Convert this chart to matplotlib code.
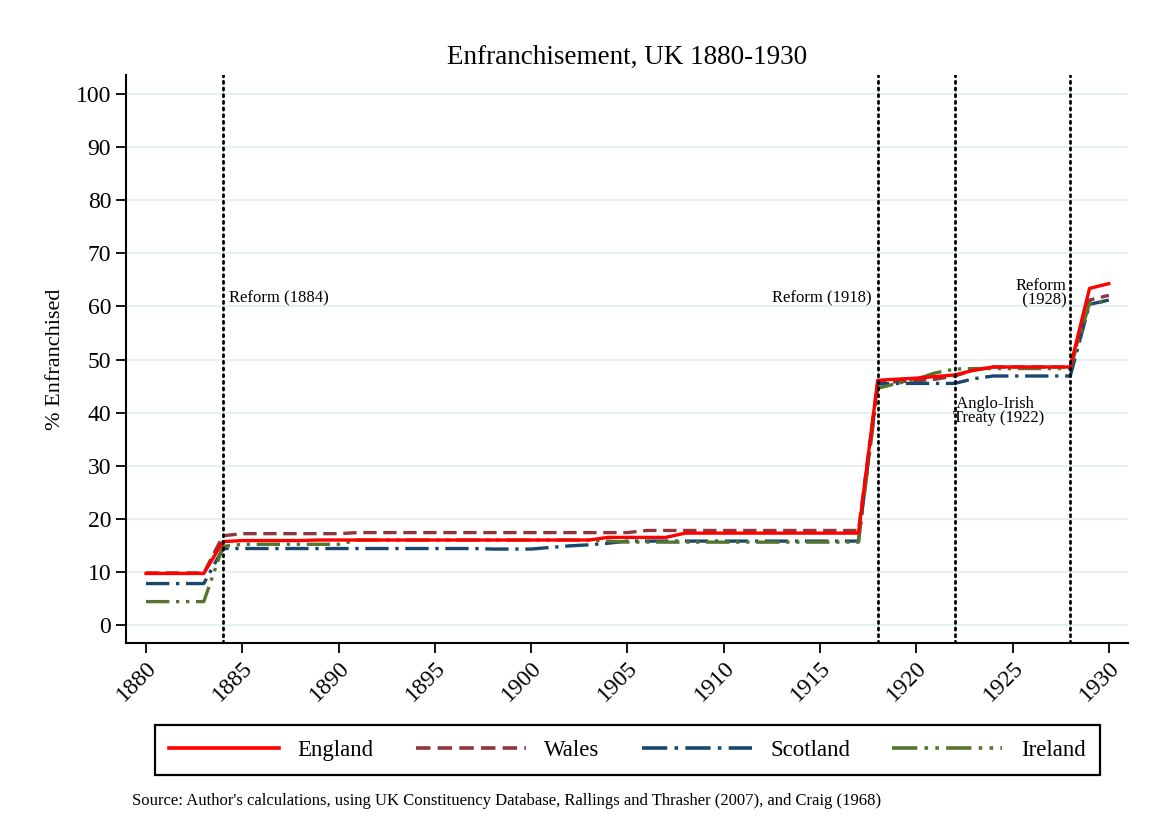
import numpy as np
import matplotlib
matplotlib.use("Agg")
import matplotlib.pyplot as plt
from matplotlib.lines import Line2D

plt.rcParams["font.family"] = ["Liberation Serif", "DejaVu Serif"]

years = list(range(1880, 1931))

england = ([9.7] * 4 + [15.7] + [15.9] * 4 + [16.0] * 15 + [16.5] * 4 + [17.3] * 10
           + [46.1, 46.3, 46.5, 46.8, 47.1, 48.0] + [48.6] * 5 + [63.4, 64.3])
wales = ([9.8] * 4 + [16.8] + [17.2] * 6 + [17.4] * 15 + [17.8] * 12
         + [45.7, 45.8, 46.0, 46.3, 46.9, 48.0] + [48.6] * 5 + [61.2, 62.1])
scotland = ([7.8] * 4 + [14.4] * 14 + [14.3] * 3 + [14.6, 14.9, 15.1, 15.4] + [15.8] * 13
            + [45.4, 45.5, 45.5, 45.5, 45.5, 46.4] + [46.9] * 5 + [60.4, 61.2])
ireland = ([4.4] * 4 + [14.8] + [15.2] * 6 + [16.0] * 13 + [15.8] + [15.6] * 13
           + [44.6, 45.5, 46.3, 47.5, 48.2, 48.3] + [48.3] * 5 + [60.6, 60.9])

reform_years = [1884, 1918, 1922, 1928]

fig = plt.figure(figsize=(11.54, 8.39), dpi=100)
ax = fig.add_axes([0.109, 0.2336, 0.8685, 0.677])

for y in range(0, 101, 10):
    ax.axhline(y, color="#e8f0f1", lw=1.5, zorder=0)

ax.plot(years, wales, color="#90353b", lw=2.4, linestyle=(0, (4, 2)), label="Wales")
ax.plot(years, scotland, color="#1a476f", lw=2.4, linestyle=(0, (7, 2, 1, 2)), label="Scotland")
ax.plot(years, ireland, color="#55752f", lw=2.4, linestyle=(0, (7, 2, 1, 2, 1, 2)), label="Ireland")
ax.plot(years, england, color="#ff0000", lw=2.4, label="England")

for ry in reform_years:
    ax.axvline(ry, color="black", lw=2, linestyle=(0, (0.8, 1.6)), dash_capstyle="round")

ax.text(1884.3, 61.5, "Reform (1884)", fontsize=12, va="center", ha="left")
ax.text(1917.7, 61.5, "Reform (1918)", fontsize=12, va="center", ha="right")
ax.text(1927.8, 62.5, "Reform\n  (1928)", fontsize=12, va="center", ha="right", linespacing=0.85)
ax.text(1921.9, 40.3, " Anglo-Irish\nTreaty (1922)", fontsize=12, va="center", ha="left", linespacing=0.85)

ax.set_xlim(1878.95, 1931.0)
ax.set_ylim(-3.4, 103.6)
ax.set_xticks(range(1880, 1931, 5))
ax.set_yticks(range(0, 101, 10))
ax.tick_params(axis="both", direction="out", length=7, width=1.3, labelsize=17)
plt.setp(ax.get_xticklabels(), rotation=45, ha="right", rotation_mode="anchor")

for side in ["top", "right"]:
    ax.spines[side].set_visible(False)
for side in ["left", "bottom"]:
    ax.spines[side].set_linewidth(1.5)

ax.set_ylabel("% Enfranchised", fontsize=16, labelpad=8)
ax.set_title("Enfranchisement, UK 1880-1930", fontsize=19.5, pad=8)

handles = [
    Line2D([], [], color="#ff0000", lw=2.6),
    Line2D([], [], color="#90353b", lw=2.6, linestyle=(0, (4, 2))),
    Line2D([], [], color="#1a476f", lw=2.6, linestyle=(0, (7, 2, 1, 2))),
    Line2D([], [], color="#55752f", lw=2.6, linestyle=(0, (7, 2, 1, 2, 1, 2))),
]
leg = fig.legend(handles, ["England", "Wales", "Scotland", "Ireland"],
                 loc="center", bbox_to_anchor=(0.134, 0.075, 0.819, 0.062),
                 mode="expand", ncol=4, fontsize=16.5, handlelength=4.8,
                 fancybox=False, edgecolor="black", framealpha=1,
                 borderaxespad=0, borderpad=0.62)
leg.get_frame().set_linewidth(1.6)

fig.text(0.114, 0.045, "Source: Author's calculations, using UK Constituency Database, "
         "Rallings and Thrasher (2007), and Craig (1968)", fontsize=12, va="center")

fig.savefig("out.png", dpi=100)
